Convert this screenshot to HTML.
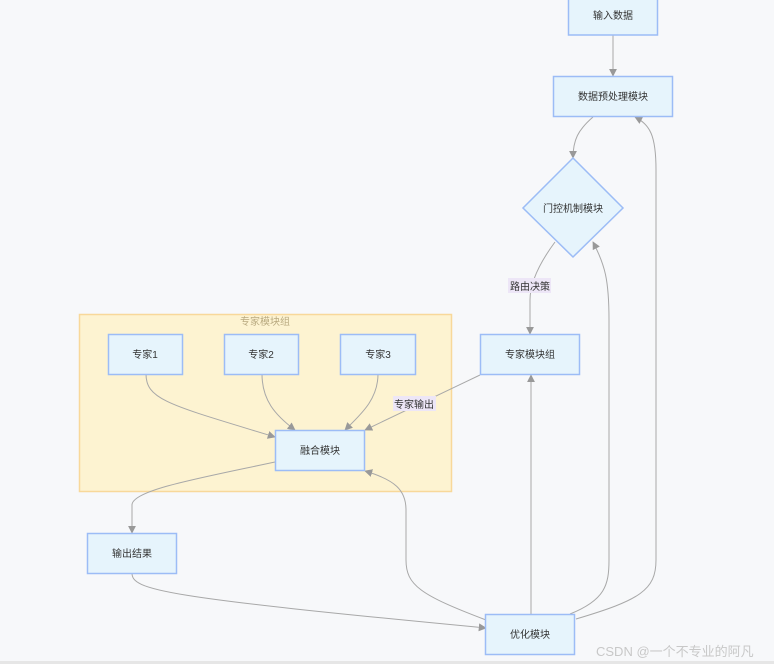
<!DOCTYPE html>
<html><head><meta charset="utf-8">
<style>
html,body{margin:0;padding:0;}
body{width:774px;height:664px;background:#f7f8fa;position:relative;overflow:hidden;font-family:"Liberation Sans","Noto Sans CJK SC",sans-serif;}
svg{position:absolute;left:0;top:0;}
</style></head><body>
<svg width="774" height="664" viewBox="0 0 774 664" xmlns="http://www.w3.org/2000/svg" font-family="Liberation Sans, Noto Sans CJK SC, sans-serif">
<defs>
<marker id="a" viewBox="0 0 10 10" refX="9" refY="5" markerWidth="8" markerHeight="8" orient="auto-start-reverse" markerUnits="userSpaceOnUse">
<path d="M0,0 L10,5 L0,10 z" fill="#999"/>
</marker>
</defs>
<!-- cluster -->
<rect x="79.5" y="314.5" width="372" height="177" fill="#fdf3d1" stroke="#f8d89a" stroke-width="1.5"/>
<text x="265" y="325" font-size="10" fill="#b9aa80" text-anchor="middle">专家模块组</text>

<!-- edges -->
<g fill="none" stroke="#a8a8a8" stroke-width="1">
<path d="M613,35 L613,76" marker-end="url(#a)"/>
<path d="M593,117 C578,130 573,140 573,158" marker-end="url(#a)"/>
<path d="M555,242 C538,265 530,285 530,300 L530,334" marker-end="url(#a)"/>
<path d="M480,375 L365,430" marker-end="url(#a)"/>
<path d="M146,374 C146,400 170,405 275,437" marker-end="url(#a)"/>
<path d="M262,374 C262,400 275,415 295,430" marker-end="url(#a)"/>
<path d="M378,374 C378,400 360,415 345,430" marker-end="url(#a)"/>
<path d="M275,462 C200,478 132,490 132,505 L132,533" marker-end="url(#a)"/>
<path d="M132,573 C132,590 160,597 486,628" marker-end="url(#a)"/>
<path d="M486,620 C420,595 406,585 406,560 L406,510 C406,490 395,480 365,471" marker-end="url(#a)"/>
<path d="M531,614 L531,375" marker-end="url(#a)"/>
<path d="M570,614 C605,600 609,585 609,560 L609,320 C609,280 605,265 593,242" marker-end="url(#a)"/>
<path d="M576,619 C640,600 656,590 656,560 L656,170 C656,135 650,125 635,117" marker-end="url(#a)"/>
</g>

<!-- nodes -->
<g fill="#e6f4fc" stroke="#9cbcf6" stroke-width="1.5">
<rect x="568.5" y="-5" width="89" height="40"/>
<rect x="553.5" y="76.5" width="119" height="40"/>
<path d="M573,158 L623,208 L573,257 L523,208 Z"/>
<rect x="480.5" y="334.5" width="99" height="40"/>
<rect x="108.5" y="334.5" width="74" height="40"/>
<rect x="224.5" y="334.5" width="74" height="40"/>
<rect x="340.5" y="334.5" width="75" height="40"/>
<rect x="275.5" y="430.5" width="89" height="40"/>
<rect x="87.5" y="533.5" width="89" height="40"/>
<rect x="485.5" y="614.5" width="89" height="40"/>
</g>

<!-- labels bg -->
<rect x="508" y="278" width="43" height="15" fill="#ede6f7"/>
<rect x="393" y="396" width="43" height="15" fill="#ede6f7"/>

<g font-size="10" fill="#333" text-anchor="middle">
<text x="613" y="19">输入数据</text>
<text x="613" y="100">数据预处理模块</text>
<text x="573" y="212">门控机制模块</text>
<text x="530" y="290">路由决策</text>
<text x="530" y="358">专家模块组</text>
<text x="145" y="358">专家1</text>
<text x="261" y="358">专家2</text>
<text x="378" y="358">专家3</text>
<text x="414" y="408">专家输出</text>
<text x="320" y="454">融合模块</text>
<text x="132" y="557">输出结果</text>
<text x="530" y="638">优化模块</text>
</g>
<text x="596" y="656" font-size="13" fill="#c8c8c8">CSDN @一个不专业的阿凡</text>
<rect x="0" y="661" width="774" height="3" fill="#e6e6e6"/>
</svg>
</body></html>
